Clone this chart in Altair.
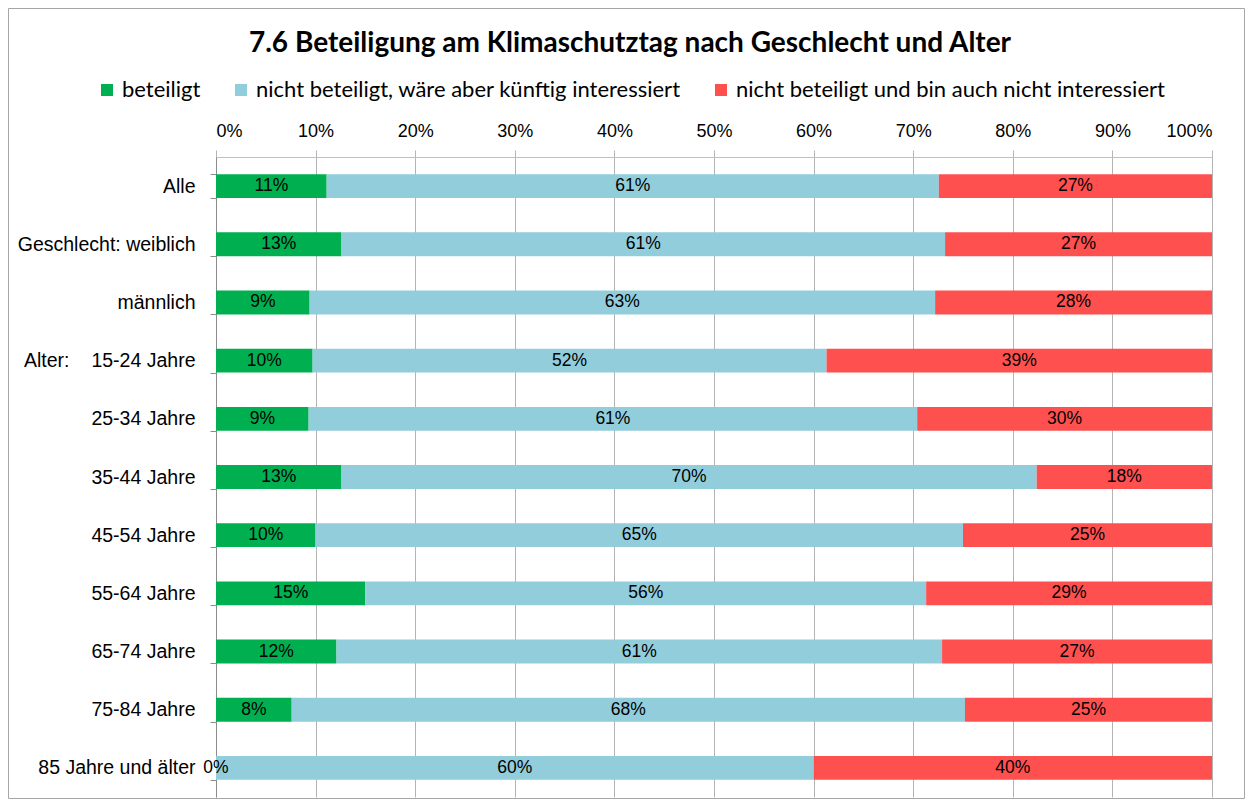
import altair as alt
import pandas as pd

categories = ["Alle", "Geschlecht: weiblich", "männlich", "15-24 Jahre", "25-34 Jahre",
              "35-44 Jahre", "45-54 Jahre", "55-64 Jahre", "65-74 Jahre", "75-84 Jahre",
              "85 Jahre und älter"]
series = ["beteiligt",
          "nicht beteiligt, wäre aber künftig interessiert",
          "nicht beteiligt und bin auch nicht interessiert"]
beteiligt = [11.1, 12.6, 9.4, 9.7, 9.3, 12.6, 10.0, 15.0, 12.1, 7.6, 0.0]
kuenftig_interessiert = [61.4, 60.6, 62.8, 51.6, 61.1, 69.8, 65.0, 56.3, 60.8, 67.6, 60.0]
nicht_interessiert = [27.4, 26.8, 27.8, 38.7, 29.6, 17.6, 25.0, 28.7, 27.1, 24.8, 40.0]
colors = ["#00B050", "#92CDDC", "#FF5050"]
x_ticks = [0, 0.1, 0.2, 0.3, 0.4, 0.5, 0.6, 0.7, 0.8, 0.9, 1.0]
group_label = "Alter:"
group_label_cat = "15-24 Jahre"
title_text = "7.6 Beteiligung am Klimaschutztag nach Geschlecht und Alter"

NARROW = "Liberation Sans, Arial, sans-serif"
SANS = "Lato, Carlito, Calibri, sans-serif"

rows = []
for i, cat in enumerate(categories):
    for j, (s, vals) in enumerate(zip(series, [beteiligt, kuenftig_interessiert, nicht_interessiert])):
        rows.append({"cat": cat, "series": s, "order": j, "value": vals[i]})
df = pd.DataFrame(rows)

yenc = alt.Y("cat:N", sort=categories,
             scale=alt.Scale(paddingInner=0.59, paddingOuter=0.295),
             axis=alt.Axis(title=None, tickBand="extent", grid=False,
                           domainColor="#8c8c8c", tickColor="#8c8c8c", tickSize=6,
                           labelPadding=15, labelFont=NARROW, labelFontSize=19.5,
                           labelColor="#000000", labelLimit=0))

base = alt.Chart(df).transform_stack(
    stack="value", groupby=["cat"], as_=["v0", "v1"], offset="normalize",
    sort=[alt.SortField("order", order="ascending")]
).transform_calculate(
    mid="(datum.v0 + datum.v1) / 2",
    label="format(datum.value, '.0f') + '%'"
)

bars = base.mark_bar().encode(
    x=alt.X("v0:Q", scale=alt.Scale(domain=[0, 1], nice=False),
            axis=alt.Axis(orient="top", title=None, format=".0%", values=x_ticks,
                          grid=True, gridColor="#b4b4b4", domainColor="#bfbfbf",
                          tickColor="#b4b4b4", tickSize=7, labelPadding=10,
                          labelFont=NARROW, labelFontSize=18, labelColor="#000000")),
    x2="v1:Q",
    y=yenc,
    color=alt.Color("series:N", scale=alt.Scale(domain=series, range=colors),
                    sort=series,
                    legend=alt.Legend(title=None, orient="none", direction="horizontal",
                                      legendX=-120, legendY=-78, columns=3,
                                      symbolType="square", symbolSize=144,
                                      symbolStrokeWidth=0, labelFont=SANS,
                                      labelFontSize=22, labelColor="#000000",
                                      labelOffset=4, columnPadding=29, labelLimit=0)),
    order=alt.Order("order:Q"),
)

texts = base.mark_text(font=NARROW, fontSize=17.5, color="#000000").encode(
    x=alt.X("mid:Q"),
    y=alt.Y("cat:N", sort=categories),
    text="label:N",
)

alter = alt.Chart(pd.DataFrame({"cat": [group_label_cat], "t": [group_label]})).mark_text(
    align="left", font=NARROW, fontSize=19.5, color="#000000"
).encode(
    x=alt.value(-192),
    y=alt.Y("cat:N", sort=categories),
    text="t:N",
)

frame = alt.Chart(pd.DataFrame({"a": [0]})).mark_rect(
    fill=None, stroke="#a6a6a6", strokeWidth=1
).encode(
    x=alt.value(-207.5), x2=alt.value(1028.5),
    y=alt.value(-148.5), y2=alt.value(641.5),
)

chart = alt.layer(frame, bars, texts, alter).properties(
    width=996, height=640,
    title=alt.TitleParams(title_text, font=SANS, fontSize=28, fontWeight="bold",
                          color="#000000", anchor="middle", dx=-84, offset=-50),
    autosize=alt.AutoSizeParams(type="none"),
    padding={"left": 208, "top": 149, "right": 33, "bottom": 2},
).configure_view(stroke=None)

chart.save("out.html", embed_options={"renderer": "svg", "actions": False})
